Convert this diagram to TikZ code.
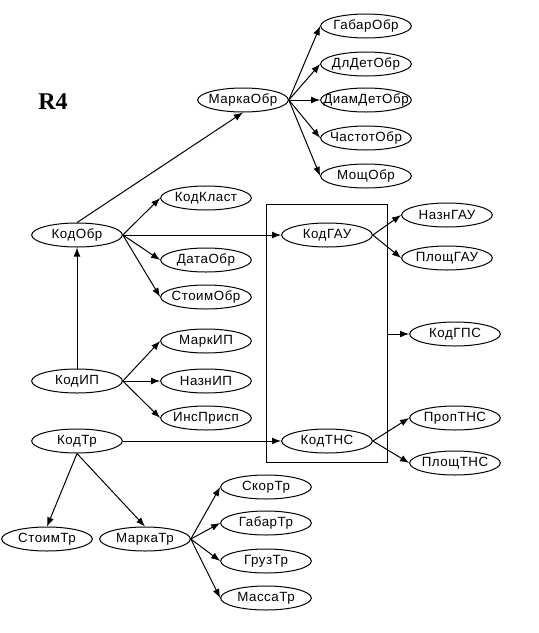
\documentclass[tikz,border=0pt]{standalone}
\usepackage{fontspec}
\setmainfont{Liberation Sans}[LetterSpace=4]
\newfontfamily\titlefont{Liberation Serif}
\usepackage{tikz}
\usetikzlibrary{arrows.meta,shapes.geometric}

\begin{document}
\begin{tikzpicture}[x=0.75pt,y=-0.75pt,
  attr/.style={draw, ellipse, line width=0.75pt, minimum width=68pt, minimum height=18pt, inner xsep=-12pt, inner ysep=0pt, font=\fontsize{10}{12}\selectfont},
  link/.style={-{Latex[length=2.4mm,width=1.8mm]}, line width=0.75pt}]
\useasboundingbox (0,0) rectangle (539,633);
\node[font=\titlefont\bfseries\fontsize{18}{22}\selectfont] (title) at (53,102) {R4};
% Obr
\node[attr] (mo) at (243,100) {МаркаОбр};
\node[attr] (gabo) at (366,26) {ГабарОбр};
\node[attr] (dldo) at (366,64) {ДлДетОбр};
\node[attr] (diamo) at (366,100) {ДиамДетОбр};
\node[attr] (chasto) at (366,138) {ЧастотОбр};
\node[attr] (mosho) at (366,176) {МощОбр};
\node[attr] (ko) at (77,235) {КодОбр};
\node[attr] (kkl) at (206,198) {КодКласт};
\node[attr] (dato) at (206,260) {ДатаОбр};
\node[attr] (sto) at (206,297) {СтоимОбр};
% group box
\node[draw, line width=0.75pt, inner sep=0pt, minimum width=90.75pt, minimum height=193.5pt] (grp) at (326.5,333) {};
\node[attr] (kgau) at (327,235) {КодГАУ};
\node[attr] (ngau) at (447,215) {НазнГАУ};
\node[attr] (pgau) at (447,258) {ПлощГАУ};
\node[attr] (kgps) at (455,334) {КодГПС};
\node[attr] (ktns) at (327,441) {КодТНС};
\node[attr] (ptns) at (455,418) {ПропТНС};
\node[attr] (pltns) at (455,463) {ПлощТНС};
% IP
\node[attr] (kip) at (77,381) {КодИП};
\node[attr] (mip) at (206,341) {МаркИП};
\node[attr] (nip) at (206,381) {НазнИП};
\node[attr] (ins) at (206,418) {ИнсПрисп};
% Tr
\node[attr] (ktr) at (77,441) {КодТр};
\node[attr] (sttr) at (47,539) {СтоимТр};
\node[attr] (mtr) at (145,539) {МаркаТр};
\node[attr] (sktr) at (266,487) {СкорТр};
\node[attr] (gabtr) at (266,523) {ГабарТр};
\node[attr] (gruztr) at (266,561) {ГрузТр};
\node[attr] (masstr) at (266,598) {МассаТр};
% links
\foreach \t in {gabo,dldo,diamo,chasto,mosho}
  \draw[link] (mo.east) -- (\t.west);
\draw[link] (ko.north) -- (mo.south);
\foreach \t in {kkl,dato,sto,kgau}
  \draw[link] (ko.east) -- (\t.west);
\foreach \t in {ngau,pgau}
  \draw[link] (kgau.east) -- (\t.west);
\draw[link] (grp.east |- kgps.west) -- (kgps.west);
\draw[link] (kip.north) -- (ko.south);
\foreach \t in {mip,nip,ins}
  \draw[link] (kip.east) -- (\t.west);
\draw[link] (ktr.east) -- (ktns.west);
\foreach \t in {ptns,pltns}
  \draw[link] (ktns.east) -- (\t.west);
\foreach \t in {sttr,mtr}
  \draw[link] (ktr.south) -- (\t.north);
\foreach \t in {sktr,gabtr,gruztr,masstr}
  \draw[link] (mtr.east) -- (\t.west);
\end{tikzpicture}
\end{document}
